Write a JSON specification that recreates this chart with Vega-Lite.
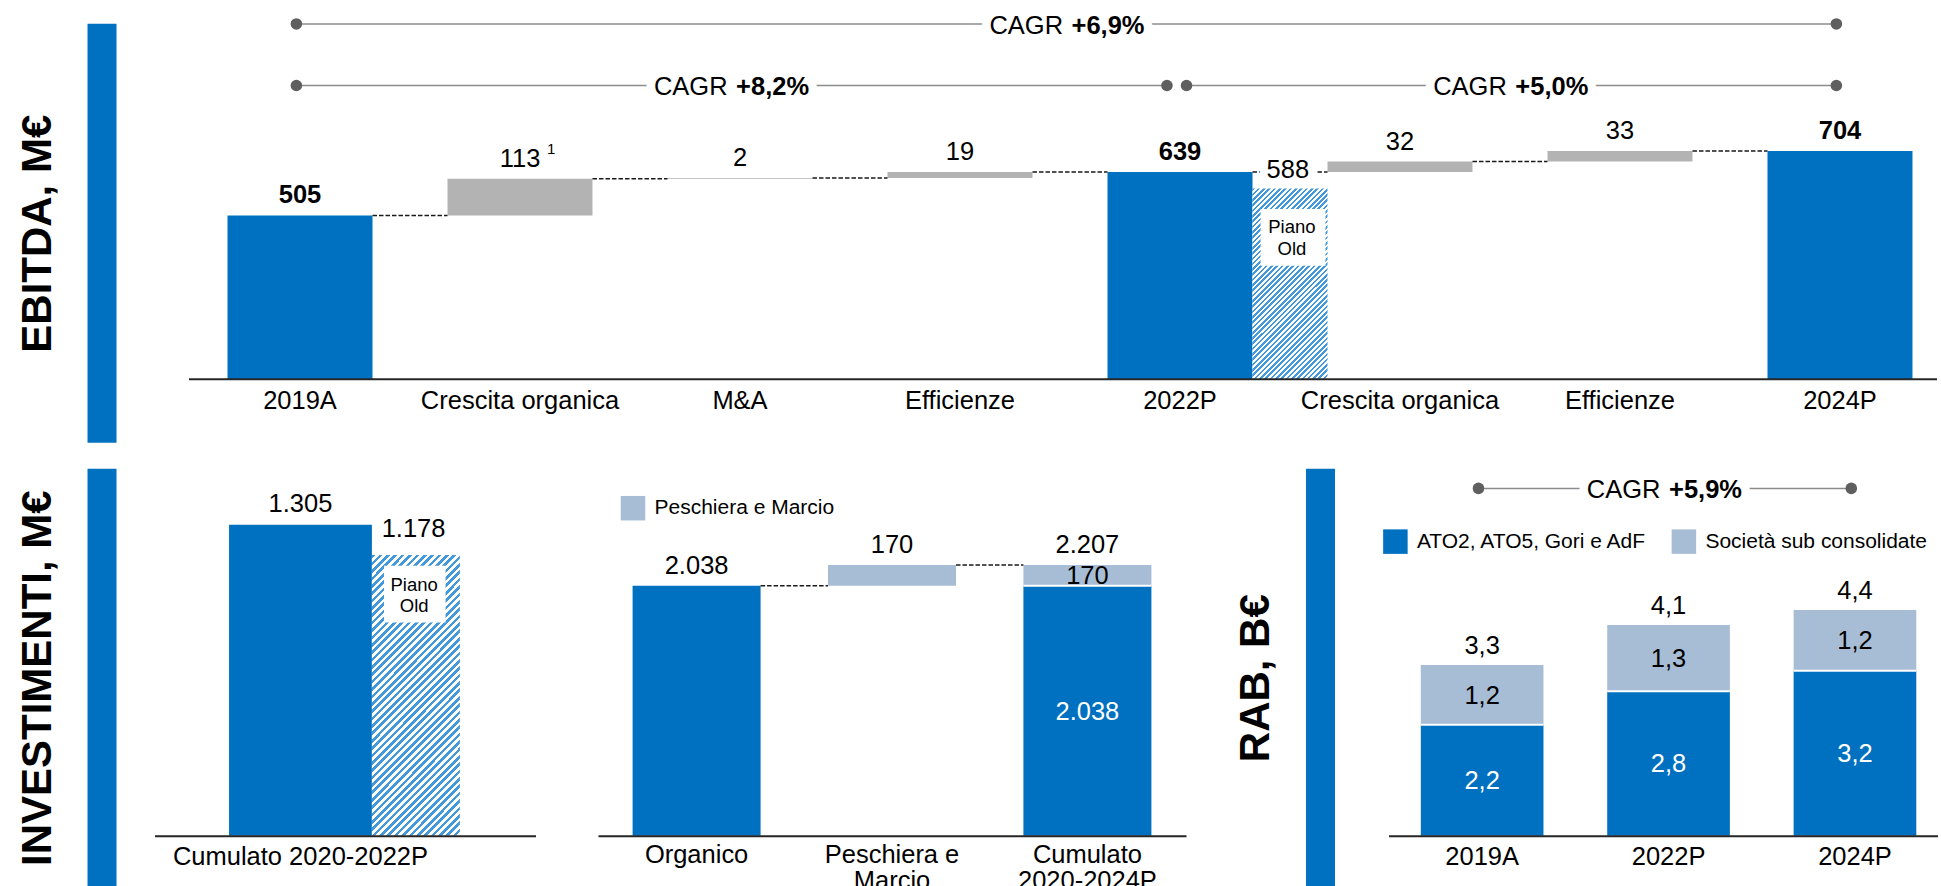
{
"$schema":"https://vega.github.io/schema/vega-lite/v6.json",
"padding":{"left":15.5,"top":13.7,"right":0,"bottom":0},
"config":{"font":"Liberation Sans","view":{"stroke":null},"locale":{"number":{"decimal":",","thousands":".","grouping":[3],"currency":[""," €"]}},"axis":{"grid":false}},
"spacing":26,
"resolve":{"scale":{"color":"independent"},"legend":{"color":"independent"}},
"vconcat":[
{"spacing":72,"resolve":{"scale":{"color":"independent"},"legend":{"color":"independent"}},"hconcat":[
{"width":29,"height":419,"data":{"values":[{}]},"mark":{"type":"rect","color":"#0070C0"},
 "encoding":{"y":{"datum":0,"type":"quantitative","scale":{"domain":[0,1]},"axis":{"title":"EBITDA, M€","titleFontSize":42,"titleFontWeight":"bold","titleColor":"#000","titlePadding":28.5,"labels":false,"ticks":false,"domain":false,"grid":false,"minExtent":0,"maxExtent":0}},"y2":{"datum":1}}},
{"width":1748,"height":419,
 "data":{"values":[
 {"cat":"2019A","kind":"total","start":0,"end":505,"value":505},
 {"cat":"Crescita organica|1","kind":"delta","start":505,"end":618,"value":113},
 {"cat":"M&A","kind":"delta","start":618,"end":620,"value":2},
 {"cat":"Efficienze|1","kind":"delta","start":620,"end":639,"value":19},
 {"cat":"2022P","kind":"total","start":0,"end":639,"value":639},
 {"cat":"Crescita organica|2","kind":"delta","start":639,"end":671,"value":32},
 {"cat":"Efficienze|2","kind":"delta","start":671,"end":704,"value":33},
 {"cat":"2024P","kind":"total","start":0,"end":704,"value":704}]},
 "layer":[
 {"mark":{"type":"bar"},
  "encoding":{
   "x":{"field":"cat","type":"nominal","scale":{"type":"band","domain":["2019A","Crescita organica|1","M&A","Efficienze|1","2022P","Crescita organica|2","Efficienze|2","2024P"],"paddingInner":0.341,"paddingOuter":0.1432,"align":0.619},
        "axis":{"title":null,"orient":"bottom","offset":-64,"domainColor":"#262626","domainWidth":2,"ticks":false,"labelPadding":10,"labelFontSize":25.5,"labelColor":"#000","labelAngle":0,"labelLimit":400,"labelOverlap":false,"labelExpr":"split(datum.value, '|')[0]","zindex":1}},
   "y":{"field":"start","type":"quantitative","scale":{"domain":[-196.6,1096.6],"nice":false,"zero":false},"axis":null},
   "y2":{"field":"end"},
   "color":{"condition":{"test":"datum.kind == 'total'","value":"#0070C0"},"value":"#B3B3B3"}}},
 {"data":{"values":[{"piano_old":588}]},
  "mark":{"type":"rect","color":{"gradient":"linear","x1":0,"y1":0,"x2":0.475,"y2":1.207,"stops":[{"offset":0,"color":"#49d"},{"offset":0.01,"color":"#49d"},{"offset":0.01,"color":"#fff"},{"offset":0.02,"color":"#fff"},{"offset":0.02,"color":"#49d"},{"offset":0.03,"color":"#49d"},{"offset":0.03,"color":"#fff"},{"offset":0.04,"color":"#fff"},{"offset":0.04,"color":"#49d"},{"offset":0.05,"color":"#49d"},{"offset":0.05,"color":"#fff"},{"offset":0.06,"color":"#fff"},{"offset":0.06,"color":"#49d"},{"offset":0.07,"color":"#49d"},{"offset":0.07,"color":"#fff"},{"offset":0.08,"color":"#fff"},{"offset":0.08,"color":"#49d"},{"offset":0.09,"color":"#49d"},{"offset":0.09,"color":"#fff"},{"offset":0.1,"color":"#fff"},{"offset":0.1,"color":"#49d"},{"offset":0.11,"color":"#49d"},{"offset":0.11,"color":"#fff"},{"offset":0.12,"color":"#fff"},{"offset":0.12,"color":"#49d"},{"offset":0.13,"color":"#49d"},{"offset":0.13,"color":"#fff"},{"offset":0.14,"color":"#fff"},{"offset":0.14,"color":"#49d"},{"offset":0.15,"color":"#49d"},{"offset":0.15,"color":"#fff"},{"offset":0.16,"color":"#fff"},{"offset":0.16,"color":"#49d"},{"offset":0.17,"color":"#49d"},{"offset":0.17,"color":"#fff"},{"offset":0.18,"color":"#fff"},{"offset":0.18,"color":"#49d"},{"offset":0.19,"color":"#49d"},{"offset":0.19,"color":"#fff"},{"offset":0.2,"color":"#fff"},{"offset":0.2,"color":"#49d"},{"offset":0.21,"color":"#49d"},{"offset":0.21,"color":"#fff"},{"offset":0.22,"color":"#fff"},{"offset":0.22,"color":"#49d"},{"offset":0.23,"color":"#49d"},{"offset":0.23,"color":"#fff"},{"offset":0.24,"color":"#fff"},{"offset":0.24,"color":"#49d"},{"offset":0.25,"color":"#49d"},{"offset":0.25,"color":"#fff"},{"offset":0.26,"color":"#fff"},{"offset":0.26,"color":"#49d"},{"offset":0.27,"color":"#49d"},{"offset":0.27,"color":"#fff"},{"offset":0.28,"color":"#fff"},{"offset":0.28,"color":"#49d"},{"offset":0.29,"color":"#49d"},{"offset":0.29,"color":"#fff"},{"offset":0.3,"color":"#fff"},{"offset":0.3,"color":"#49d"},{"offset":0.31,"color":"#49d"},{"offset":0.31,"color":"#fff"},{"offset":0.32,"color":"#fff"},{"offset":0.32,"color":"#49d"},{"offset":0.33,"color":"#49d"},{"offset":0.33,"color":"#fff"},{"offset":0.34,"color":"#fff"},{"offset":0.34,"color":"#49d"},{"offset":0.35,"color":"#49d"},{"offset":0.35,"color":"#fff"},{"offset":0.36,"color":"#fff"},{"offset":0.36,"color":"#49d"},{"offset":0.37,"color":"#49d"},{"offset":0.37,"color":"#fff"},{"offset":0.38,"color":"#fff"},{"offset":0.38,"color":"#49d"},{"offset":0.39,"color":"#49d"},{"offset":0.39,"color":"#fff"},{"offset":0.4,"color":"#fff"},{"offset":0.4,"color":"#49d"},{"offset":0.41,"color":"#49d"},{"offset":0.41,"color":"#fff"},{"offset":0.42,"color":"#fff"},{"offset":0.42,"color":"#49d"},{"offset":0.43,"color":"#49d"},{"offset":0.43,"color":"#fff"},{"offset":0.44,"color":"#fff"},{"offset":0.44,"color":"#49d"},{"offset":0.45,"color":"#49d"},{"offset":0.45,"color":"#fff"},{"offset":0.46,"color":"#fff"},{"offset":0.46,"color":"#49d"},{"offset":0.47,"color":"#49d"},{"offset":0.47,"color":"#fff"},{"offset":0.48,"color":"#fff"},{"offset":0.48,"color":"#49d"},{"offset":0.49,"color":"#49d"},{"offset":0.49,"color":"#fff"},{"offset":0.5,"color":"#fff"},{"offset":0.5,"color":"#49d"},{"offset":0.51,"color":"#49d"},{"offset":0.51,"color":"#fff"},{"offset":0.52,"color":"#fff"},{"offset":0.52,"color":"#49d"},{"offset":0.53,"color":"#49d"},{"offset":0.53,"color":"#fff"},{"offset":0.54,"color":"#fff"},{"offset":0.54,"color":"#49d"},{"offset":0.55,"color":"#49d"},{"offset":0.55,"color":"#fff"},{"offset":0.56,"color":"#fff"},{"offset":0.56,"color":"#49d"},{"offset":0.57,"color":"#49d"},{"offset":0.57,"color":"#fff"},{"offset":0.58,"color":"#fff"},{"offset":0.58,"color":"#49d"},{"offset":0.59,"color":"#49d"},{"offset":0.59,"color":"#fff"},{"offset":0.6,"color":"#fff"},{"offset":0.6,"color":"#49d"},{"offset":0.61,"color":"#49d"},{"offset":0.61,"color":"#fff"},{"offset":0.62,"color":"#fff"},{"offset":0.62,"color":"#49d"},{"offset":0.63,"color":"#49d"},{"offset":0.63,"color":"#fff"},{"offset":0.64,"color":"#fff"},{"offset":0.64,"color":"#49d"},{"offset":0.65,"color":"#49d"},{"offset":0.65,"color":"#fff"},{"offset":0.66,"color":"#fff"},{"offset":0.66,"color":"#49d"},{"offset":0.67,"color":"#49d"},{"offset":0.67,"color":"#fff"},{"offset":0.68,"color":"#fff"},{"offset":0.68,"color":"#49d"},{"offset":0.69,"color":"#49d"},{"offset":0.69,"color":"#fff"},{"offset":0.7,"color":"#fff"},{"offset":0.7,"color":"#49d"},{"offset":0.71,"color":"#49d"},{"offset":0.71,"color":"#fff"},{"offset":0.72,"color":"#fff"},{"offset":0.72,"color":"#49d"},{"offset":0.73,"color":"#49d"},{"offset":0.73,"color":"#fff"},{"offset":0.74,"color":"#fff"},{"offset":0.74,"color":"#49d"},{"offset":0.75,"color":"#49d"},{"offset":0.75,"color":"#fff"},{"offset":0.76,"color":"#fff"},{"offset":0.76,"color":"#49d"},{"offset":0.77,"color":"#49d"},{"offset":0.77,"color":"#fff"},{"offset":0.78,"color":"#fff"},{"offset":0.78,"color":"#49d"},{"offset":0.79,"color":"#49d"},{"offset":0.79,"color":"#fff"},{"offset":0.8,"color":"#fff"},{"offset":0.8,"color":"#49d"},{"offset":0.81,"color":"#49d"},{"offset":0.81,"color":"#fff"},{"offset":0.82,"color":"#fff"},{"offset":0.82,"color":"#49d"},{"offset":0.83,"color":"#49d"},{"offset":0.83,"color":"#fff"},{"offset":0.84,"color":"#fff"},{"offset":0.84,"color":"#49d"},{"offset":0.85,"color":"#49d"},{"offset":0.85,"color":"#fff"},{"offset":0.86,"color":"#fff"},{"offset":0.86,"color":"#49d"},{"offset":0.87,"color":"#49d"},{"offset":0.87,"color":"#fff"},{"offset":0.88,"color":"#fff"},{"offset":0.88,"color":"#49d"},{"offset":0.89,"color":"#49d"},{"offset":0.89,"color":"#fff"},{"offset":0.9,"color":"#fff"},{"offset":0.9,"color":"#49d"},{"offset":0.91,"color":"#49d"},{"offset":0.91,"color":"#fff"},{"offset":0.92,"color":"#fff"},{"offset":0.92,"color":"#49d"},{"offset":0.93,"color":"#49d"},{"offset":0.93,"color":"#fff"},{"offset":0.94,"color":"#fff"},{"offset":0.94,"color":"#49d"},{"offset":0.95,"color":"#49d"},{"offset":0.95,"color":"#fff"},{"offset":0.96,"color":"#fff"},{"offset":0.96,"color":"#49d"},{"offset":0.97,"color":"#49d"},{"offset":0.97,"color":"#fff"},{"offset":0.98,"color":"#fff"},{"offset":0.98,"color":"#49d"},{"offset":0.99,"color":"#49d"},{"offset":0.99,"color":"#fff"},{"offset":1,"color":"#fff"}]}},
  "encoding":{"x":{"datum":"2022P","type":"nominal","bandPosition":1},"x2":{"datum":"Crescita organica|2","bandPosition":0},"y":{"field":"piano_old","type":"quantitative","axis":null},"y2":{"datum":0}}},
 {"data":{"values":[{}]},"mark":{"type":"rect","color":"#fff"},
  "encoding":{"x":{"datum":"2022P","type":"nominal","bandPosition":1.056},"x2":{"datum":"Crescita organica|2","bandPosition":-0.014},"y":{"datum":524.7,"type":"quantitative","axis":null},"y2":{"datum":349.7}}},
 {"data":{"values":[{}]},"mark":{"type":"text","text":["Piano","Old"],"fontSize":18.5,"lineHeight":21.5,"baseline":"top","color":"#000"},
  "encoding":{"x":{"datum":"2022P","type":"nominal","bandPosition":1.272},"y":{"datum":496,"type":"quantitative","axis":null}}},
 {"transform":[{"window":[{"op":"lead","field":"cat","as":"next"}]},{"filter":"datum.next != null"}],
  "mark":{"type":"rule","color":"#1a1a1a","strokeWidth":1.5,"strokeDash":[4.5,2]},
  "encoding":{"x":{"field":"cat","type":"nominal","bandPosition":1},"x2":{"field":"next","bandPosition":0},"y":{"field":"end","type":"quantitative","axis":null}}},
 {"transform":[{"filter":"datum.kind == 'delta'"}],"mark":{"type":"text","baseline":"bottom","dy":-7,"fontSize":25.5,"color":"#000"},
  "encoding":{"x":{"field":"cat","type":"nominal"},"y":{"field":"end","type":"quantitative","axis":null},"text":{"field":"value","type":"quantitative"}}},
 {"transform":[{"filter":"datum.kind == 'total'"}],"mark":{"type":"text","baseline":"bottom","dy":-7,"fontSize":25.5,"fontWeight":"bold","color":"#000"},
  "encoding":{"x":{"field":"cat","type":"nominal"},"y":{"field":"end","type":"quantitative","axis":null},"text":{"field":"value","type":"quantitative"}}},
 {"transform":[{"filter":"datum.cat == 'Crescita organica|1'"}],"mark":{"type":"text","text":"1","fontSize":15,"align":"left","baseline":"alphabetic","dx":27,"dy":-25,"color":"#000"},
  "encoding":{"x":{"field":"cat","type":"nominal"},"y":{"field":"end","type":"quantitative","axis":null}}},
 {"data":{"values":[{"piano_old":588}]},"mark":{"type":"text","fontSize":25.5,"dy":-2,"color":"#fff","stroke":"#fff","strokeWidth":16,"strokeJoin":"round"},
  "encoding":{"x":{"datum":"2022P","type":"nominal","bandPosition":1.244},"y":{"datum":639,"type":"quantitative","axis":null},"text":{"field":"piano_old","type":"quantitative"}}},
 {"data":{"values":[{"piano_old":588}]},"mark":{"type":"text","fontSize":25.5,"dy":-2,"color":"#000"},
  "encoding":{"x":{"datum":"2022P","type":"nominal","bandPosition":1.244},"y":{"datum":639,"type":"quantitative","axis":null},"text":{"field":"piano_old","type":"quantitative"}}},
 {"data":{"values":[{}]},"mark":{"type":"rule","color":"#8c8c8c","strokeWidth":1.5},
  "encoding":{"x":{"datum":"2019A","type":"nominal","bandPosition":0.475},"x2":{"datum":"2024P","bandPosition":0.475},"y":{"datum":1096,"type":"quantitative","axis":null}}},
 {"data":{"values":[{}]},"mark":{"type":"rule","color":"#8c8c8c","strokeWidth":1.5},
  "encoding":{"x":{"datum":"2019A","type":"nominal","bandPosition":0.475},"x2":{"datum":"2022P","bandPosition":0.41},"y":{"datum":906,"type":"quantitative","axis":null}}},
 {"data":{"values":[{}]},"mark":{"type":"rule","color":"#8c8c8c","strokeWidth":1.5},
  "encoding":{"x":{"datum":"2022P","type":"nominal","bandPosition":0.545},"x2":{"datum":"2024P","bandPosition":0.475},"y":{"datum":906,"type":"quantitative","axis":null}}},
 {"data":{"values":[{"c":"2019A"},{"c":"2024P"}]},"mark":{"type":"circle","size":133,"color":"#5f5f5f","opacity":1},
  "encoding":{"x":{"field":"c","type":"nominal","bandPosition":0.475},"y":{"datum":1096,"type":"quantitative","axis":null}}},
 {"data":{"values":[{"c":"2019A"},{"c":"2024P"}]},"mark":{"type":"circle","size":133,"color":"#5f5f5f","opacity":1},
  "encoding":{"x":{"field":"c","type":"nominal","bandPosition":0.475},"y":{"datum":906,"type":"quantitative","axis":null}}},
 {"data":{"values":[{}]},"mark":{"type":"circle","size":133,"color":"#5f5f5f","opacity":1},
  "encoding":{"x":{"datum":"2022P","type":"nominal","bandPosition":0.41},"y":{"datum":906,"type":"quantitative","axis":null}}},
 {"data":{"values":[{}]},"mark":{"type":"circle","size":133,"color":"#5f5f5f","opacity":1},
  "encoding":{"x":{"datum":"2022P","type":"nominal","bandPosition":0.545},"y":{"datum":906,"type":"quantitative","axis":null}}},
 {"data":{"values":[{}]},"mark":{"type":"text","text":"CAGR +6,9%","fontSize":25.5,"fontWeight":"bold","dy":2.5,"color":"#fff","stroke":"#fff","strokeWidth":17,"strokeJoin":"round"},
  "encoding":{"x":{"datum":"2022P","type":"nominal","bandPosition":-0.279},"y":{"datum":1096,"type":"quantitative","axis":null}}},
 {"data":{"values":[{}]},"mark":{"type":"text","text":"CAGR +8,2%","fontSize":25.5,"fontWeight":"bold","dy":2,"color":"#fff","stroke":"#fff","strokeWidth":17,"strokeJoin":"round"},
  "encoding":{"x":{"datum":"M&A","type":"nominal","bandPosition":0.442},"y":{"datum":906,"type":"quantitative","axis":null}}},
 {"data":{"values":[{}]},"mark":{"type":"text","text":"CAGR +5,0%","fontSize":25.5,"fontWeight":"bold","dy":2,"color":"#fff","stroke":"#fff","strokeWidth":17,"strokeJoin":"round"},
  "encoding":{"x":{"datum":"Efficienze|2","type":"nominal","bandPosition":-0.253},"y":{"datum":906,"type":"quantitative","axis":null}}},
 {"data":{"values":[{}]},"mark":{"type":"text","text":"CAGR","fontSize":25.5,"align":"right","dx":-4,"dy":2.5,"color":"#000"},
  "encoding":{"x":{"datum":"2022P","type":"nominal","bandPosition":-0.279},"y":{"datum":1096,"type":"quantitative","axis":null}}},
 {"data":{"values":[{}]},"mark":{"type":"text","text":"+6,9%","fontSize":25.5,"fontWeight":"bold","align":"left","dx":4.5,"dy":2.5,"color":"#000"},
  "encoding":{"x":{"datum":"2022P","type":"nominal","bandPosition":-0.279},"y":{"datum":1096,"type":"quantitative","axis":null}}},
 {"data":{"values":[{}]},"mark":{"type":"text","text":"CAGR","fontSize":25.5,"align":"right","dx":-4,"dy":2,"color":"#000"},
  "encoding":{"x":{"datum":"M&A","type":"nominal","bandPosition":0.442},"y":{"datum":906,"type":"quantitative","axis":null}}},
 {"data":{"values":[{}]},"mark":{"type":"text","text":"+8,2%","fontSize":25.5,"fontWeight":"bold","align":"left","dx":4.5,"dy":2,"color":"#000"},
  "encoding":{"x":{"datum":"M&A","type":"nominal","bandPosition":0.442},"y":{"datum":906,"type":"quantitative","axis":null}}},
 {"data":{"values":[{}]},"mark":{"type":"text","text":"CAGR","fontSize":25.5,"align":"right","dx":-4,"dy":2,"color":"#000"},
  "encoding":{"x":{"datum":"Efficienze|2","type":"nominal","bandPosition":-0.253},"y":{"datum":906,"type":"quantitative","axis":null}}},
 {"data":{"values":[{}]},"mark":{"type":"text","text":"+5,0%","fontSize":25.5,"fontWeight":"bold","align":"left","dx":4.5,"dy":2,"color":"#000"},
  "encoding":{"x":{"datum":"Efficienze|2","type":"nominal","bandPosition":-0.253},"y":{"datum":906,"type":"quantitative","axis":null}}}
 ]}
]},
{"spacing":47.5,"resolve":{"scale":{"color":"independent"},"legend":{"color":"independent"}},"hconcat":[
 {"spacing":62.5,"resolve":{"scale":{"color":"independent"},"legend":{"color":"independent"}},"hconcat":[
  {"spacing":38,"resolve":{"scale":{"color":"independent"},"legend":{"color":"independent"}},"hconcat":[
   {"width":29,"height":418,"data":{"values":[{}]},"mark":{"type":"rect","color":"#0070C0"},
    "encoding":{"y":{"datum":0,"type":"quantitative","scale":{"domain":[0,1]},"axis":{"title":"INVESTIMENTI, M€","titleFontSize":42,"titleFontWeight":"bold","titleColor":"#000","titlePadding":28.5,"labels":false,"ticks":false,"domain":false,"grid":false,"minExtent":0,"maxExtent":0}},"y2":{"datum":1}}},
   {"width":381,"height":418,
    "data":{"values":[{"cat":"Cumulato 2020-2022P","value":1305}]},
    "layer":[
     {"mark":{"type":"bar","color":"#0070C0"},
      "encoding":{"x":{"field":"cat","type":"nominal","scale":{"type":"band","domain":["Cumulato 2020-2022P"],"paddingInner":0,"paddingOuter":0.8336,"align":0.313},
         "axis":{"title":null,"orient":"bottom","offset":-51,"domainColor":"#262626","domainWidth":2,"ticks":false,"labelPadding":9,"labelFontSize":25.5,"labelColor":"#000","labelAngle":0,"labelLimit":400,"labelOverlap":false,"zindex":1}},
       "y":{"field":"value","type":"quantitative","scale":{"domain":[-214,1540.1],"nice":false,"zero":false},"axis":null},"y2":{"datum":0}}},
     {"data":{"values":[{"old":1178}]},
      "mark":{"type":"rect","color":{"gradient":"linear","x1":0,"y1":0,"x2":0.376,"y2":1.196,"stops":[{"offset":0,"color":"#49d"},{"offset":0.01,"color":"#49d"},{"offset":0.01,"color":"#fff"},{"offset":0.02,"color":"#fff"},{"offset":0.02,"color":"#49d"},{"offset":0.03,"color":"#49d"},{"offset":0.03,"color":"#fff"},{"offset":0.04,"color":"#fff"},{"offset":0.04,"color":"#49d"},{"offset":0.05,"color":"#49d"},{"offset":0.05,"color":"#fff"},{"offset":0.06,"color":"#fff"},{"offset":0.06,"color":"#49d"},{"offset":0.07,"color":"#49d"},{"offset":0.07,"color":"#fff"},{"offset":0.08,"color":"#fff"},{"offset":0.08,"color":"#49d"},{"offset":0.09,"color":"#49d"},{"offset":0.09,"color":"#fff"},{"offset":0.1,"color":"#fff"},{"offset":0.1,"color":"#49d"},{"offset":0.11,"color":"#49d"},{"offset":0.11,"color":"#fff"},{"offset":0.12,"color":"#fff"},{"offset":0.12,"color":"#49d"},{"offset":0.13,"color":"#49d"},{"offset":0.13,"color":"#fff"},{"offset":0.14,"color":"#fff"},{"offset":0.14,"color":"#49d"},{"offset":0.15,"color":"#49d"},{"offset":0.15,"color":"#fff"},{"offset":0.16,"color":"#fff"},{"offset":0.16,"color":"#49d"},{"offset":0.17,"color":"#49d"},{"offset":0.17,"color":"#fff"},{"offset":0.18,"color":"#fff"},{"offset":0.18,"color":"#49d"},{"offset":0.19,"color":"#49d"},{"offset":0.19,"color":"#fff"},{"offset":0.2,"color":"#fff"},{"offset":0.2,"color":"#49d"},{"offset":0.21,"color":"#49d"},{"offset":0.21,"color":"#fff"},{"offset":0.22,"color":"#fff"},{"offset":0.22,"color":"#49d"},{"offset":0.23,"color":"#49d"},{"offset":0.23,"color":"#fff"},{"offset":0.24,"color":"#fff"},{"offset":0.24,"color":"#49d"},{"offset":0.25,"color":"#49d"},{"offset":0.25,"color":"#fff"},{"offset":0.26,"color":"#fff"},{"offset":0.26,"color":"#49d"},{"offset":0.27,"color":"#49d"},{"offset":0.27,"color":"#fff"},{"offset":0.28,"color":"#fff"},{"offset":0.28,"color":"#49d"},{"offset":0.29,"color":"#49d"},{"offset":0.29,"color":"#fff"},{"offset":0.3,"color":"#fff"},{"offset":0.3,"color":"#49d"},{"offset":0.31,"color":"#49d"},{"offset":0.31,"color":"#fff"},{"offset":0.32,"color":"#fff"},{"offset":0.32,"color":"#49d"},{"offset":0.33,"color":"#49d"},{"offset":0.33,"color":"#fff"},{"offset":0.34,"color":"#fff"},{"offset":0.34,"color":"#49d"},{"offset":0.35,"color":"#49d"},{"offset":0.35,"color":"#fff"},{"offset":0.36,"color":"#fff"},{"offset":0.36,"color":"#49d"},{"offset":0.37,"color":"#49d"},{"offset":0.37,"color":"#fff"},{"offset":0.38,"color":"#fff"},{"offset":0.38,"color":"#49d"},{"offset":0.39,"color":"#49d"},{"offset":0.39,"color":"#fff"},{"offset":0.4,"color":"#fff"},{"offset":0.4,"color":"#49d"},{"offset":0.41,"color":"#49d"},{"offset":0.41,"color":"#fff"},{"offset":0.42,"color":"#fff"},{"offset":0.42,"color":"#49d"},{"offset":0.43,"color":"#49d"},{"offset":0.43,"color":"#fff"},{"offset":0.44,"color":"#fff"},{"offset":0.44,"color":"#49d"},{"offset":0.45,"color":"#49d"},{"offset":0.45,"color":"#fff"},{"offset":0.46,"color":"#fff"},{"offset":0.46,"color":"#49d"},{"offset":0.47,"color":"#49d"},{"offset":0.47,"color":"#fff"},{"offset":0.48,"color":"#fff"},{"offset":0.48,"color":"#49d"},{"offset":0.49,"color":"#49d"},{"offset":0.49,"color":"#fff"},{"offset":0.5,"color":"#fff"},{"offset":0.5,"color":"#49d"},{"offset":0.51,"color":"#49d"},{"offset":0.51,"color":"#fff"},{"offset":0.52,"color":"#fff"},{"offset":0.52,"color":"#49d"},{"offset":0.53,"color":"#49d"},{"offset":0.53,"color":"#fff"},{"offset":0.54,"color":"#fff"},{"offset":0.54,"color":"#49d"},{"offset":0.55,"color":"#49d"},{"offset":0.55,"color":"#fff"},{"offset":0.56,"color":"#fff"},{"offset":0.56,"color":"#49d"},{"offset":0.57,"color":"#49d"},{"offset":0.57,"color":"#fff"},{"offset":0.58,"color":"#fff"},{"offset":0.58,"color":"#49d"},{"offset":0.59,"color":"#49d"},{"offset":0.59,"color":"#fff"},{"offset":0.6,"color":"#fff"},{"offset":0.6,"color":"#49d"},{"offset":0.61,"color":"#49d"},{"offset":0.61,"color":"#fff"},{"offset":0.62,"color":"#fff"},{"offset":0.62,"color":"#49d"},{"offset":0.63,"color":"#49d"},{"offset":0.63,"color":"#fff"},{"offset":0.64,"color":"#fff"},{"offset":0.64,"color":"#49d"},{"offset":0.65,"color":"#49d"},{"offset":0.65,"color":"#fff"},{"offset":0.66,"color":"#fff"},{"offset":0.66,"color":"#49d"},{"offset":0.67,"color":"#49d"},{"offset":0.67,"color":"#fff"},{"offset":0.68,"color":"#fff"},{"offset":0.68,"color":"#49d"},{"offset":0.69,"color":"#49d"},{"offset":0.69,"color":"#fff"},{"offset":0.7,"color":"#fff"},{"offset":0.7,"color":"#49d"},{"offset":0.71,"color":"#49d"},{"offset":0.71,"color":"#fff"},{"offset":0.72,"color":"#fff"},{"offset":0.72,"color":"#49d"},{"offset":0.73,"color":"#49d"},{"offset":0.73,"color":"#fff"},{"offset":0.74,"color":"#fff"},{"offset":0.74,"color":"#49d"},{"offset":0.75,"color":"#49d"},{"offset":0.75,"color":"#fff"},{"offset":0.76,"color":"#fff"},{"offset":0.76,"color":"#49d"},{"offset":0.77,"color":"#49d"},{"offset":0.77,"color":"#fff"},{"offset":0.78,"color":"#fff"},{"offset":0.78,"color":"#49d"},{"offset":0.79,"color":"#49d"},{"offset":0.79,"color":"#fff"},{"offset":0.8,"color":"#fff"},{"offset":0.8,"color":"#49d"},{"offset":0.81,"color":"#49d"},{"offset":0.81,"color":"#fff"},{"offset":0.82,"color":"#fff"},{"offset":0.82,"color":"#49d"},{"offset":0.83,"color":"#49d"},{"offset":0.83,"color":"#fff"},{"offset":0.84,"color":"#fff"},{"offset":0.84,"color":"#49d"},{"offset":0.85,"color":"#49d"},{"offset":0.85,"color":"#fff"},{"offset":0.86,"color":"#fff"},{"offset":0.86,"color":"#49d"},{"offset":0.87,"color":"#49d"},{"offset":0.87,"color":"#fff"},{"offset":0.88,"color":"#fff"},{"offset":0.88,"color":"#49d"},{"offset":0.89,"color":"#49d"},{"offset":0.89,"color":"#fff"},{"offset":0.9,"color":"#fff"},{"offset":0.9,"color":"#49d"},{"offset":0.91,"color":"#49d"},{"offset":0.91,"color":"#fff"},{"offset":0.92,"color":"#fff"},{"offset":0.92,"color":"#49d"},{"offset":0.93,"color":"#49d"},{"offset":0.93,"color":"#fff"},{"offset":0.94,"color":"#fff"},{"offset":0.94,"color":"#49d"},{"offset":0.95,"color":"#49d"},{"offset":0.95,"color":"#fff"},{"offset":0.96,"color":"#fff"},{"offset":0.96,"color":"#49d"},{"offset":0.97,"color":"#49d"},{"offset":0.97,"color":"#fff"},{"offset":0.98,"color":"#fff"},{"offset":0.98,"color":"#49d"},{"offset":0.99,"color":"#49d"},{"offset":0.99,"color":"#fff"},{"offset":1,"color":"#fff"}]}},
      "encoding":{"x":{"datum":"Cumulato 2020-2022P","type":"nominal","bandPosition":1},"x2":{"datum":"Cumulato 2020-2022P","bandPosition":1.616},"y":{"field":"old","type":"quantitative","axis":null},"y2":{"datum":0}}},
     {"data":{"values":[{}]},"mark":{"type":"rect","color":"#fff"},
      "encoding":{"x":{"datum":"Cumulato 2020-2022P","type":"nominal","bandPosition":1.085},"x2":{"datum":"Cumulato 2020-2022P","bandPosition":1.5156},"y":{"datum":1133,"type":"quantitative","axis":null},"y2":{"datum":895}}},
     {"data":{"values":[{}]},"mark":{"type":"text","text":["Piano","Old"],"fontSize":18.5,"lineHeight":21.7,"baseline":"top","color":"#000"},
      "encoding":{"x":{"datum":"Cumulato 2020-2022P","type":"nominal","bandPosition":1.296},"y":{"datum":1091.5,"type":"quantitative","axis":null}}},
     {"mark":{"type":"text","baseline":"bottom","dy":-7.9,"fontSize":25.5,"color":"#000"},
      "encoding":{"x":{"field":"cat","type":"nominal"},"y":{"field":"value","type":"quantitative","axis":null},"text":{"field":"value","type":"quantitative","format":",.0f"}}},
     {"data":{"values":[{"old":1178}]},"mark":{"type":"text","baseline":"bottom","dy":-13.2,"fontSize":25.5,"color":"#000"},
      "encoding":{"x":{"datum":"Cumulato 2020-2022P","type":"nominal","bandPosition":1.2916},"y":{"field":"old","type":"quantitative","axis":null},"text":{"field":"old","type":"quantitative","format":",.0f"}}}
    ]}
  ]},
  {"width":588,"height":418,
   "data":{"values":[
    {"cat":"Organico","part":"Organico","start":0,"end":2037.6,"top":2037.6},
    {"cat":"Peschiera e|Marcio","part":"Peschiera e Marcio","start":2037.6,"end":2207.2,"top":169.6},
    {"cat":"Cumulato|2020-2024P","part":"Organico","start":0,"end":2037.6,"inner":2037.6},
    {"cat":"Cumulato|2020-2024P","part":"Peschiera e Marcio","start":2037.6,"end":2207.2,"inner":169.6,"top":2207.2}]},
   "layer":[
    {"mark":{"type":"bar"},
     "encoding":{"x":{"field":"cat","type":"nominal","scale":{"type":"band","domain":["Organico","Peschiera e|Marcio","Cumulato|2020-2024P"],"paddingInner":0.345,"paddingOuter":0.177},
        "axis":{"title":null,"orient":"bottom","offset":-51,"domainColor":"#262626","domainWidth":2,"ticks":false,"labels":false,"zindex":1}},
      "y":{"field":"start","type":"quantitative","scale":{"domain":[-415.8,2991.8],"nice":false,"zero":false},"axis":null},"y2":{"field":"end"},
      "color":{"field":"part","type":"nominal","scale":{"domain":["Organico","Peschiera e Marcio"],"range":["#0070C0","#A7BDD5"]},
        "legend":{"values":["Peschiera e Marcio"],"orient":"none","legendX":22.5,"legendY":27,"title":null,"symbolType":"square","symbolSize":600,"symbolStrokeWidth":0,"labelFontSize":21,"labelOffset":9,"labelColor":"#000","labelLimit":400,"padding":0}}}},
    {"transform":[{"filter":"datum.cat == 'Cumulato|2020-2024P' && datum.part == 'Organico'"}],"mark":{"type":"rule","color":"#fff","strokeWidth":2},
     "encoding":{"x":{"field":"cat","type":"nominal","bandPosition":0},"x2":{"field":"cat","bandPosition":1},"y":{"field":"end","type":"quantitative","axis":null}}},
    {"transform":[{"filter":"datum.cat != 'Cumulato|2020-2024P' || datum.part != 'Organico'"},{"window":[{"op":"lead","field":"cat","as":"next"}]},{"filter":"datum.next != null"}],
     "mark":{"type":"rule","color":"#1a1a1a","strokeWidth":1.5,"strokeDash":[4.5,2]},
     "encoding":{"x":{"field":"cat","type":"nominal","bandPosition":1},"x2":{"field":"next","bandPosition":0},"y":{"field":"end","type":"quantitative","axis":null}}},
    {"transform":[{"filter":"isValid(datum.top)"}],"mark":{"type":"text","baseline":"bottom","dy":-7,"fontSize":25.5,"color":"#000"},
     "encoding":{"x":{"field":"cat","type":"nominal"},"y":{"field":"end","type":"quantitative","axis":null},"text":{"field":"top","type":"quantitative","format":",.0f"}}},
    {"transform":[{"filter":"isValid(datum.inner)"},{"calculate":"(datum.start + datum.end) / 2","as":"mid"}],"mark":{"type":"text","baseline":"middle","dy":1,"fontSize":25.5},
     "encoding":{"x":{"field":"cat","type":"nominal"},"y":{"field":"mid","type":"quantitative","axis":null},"text":{"field":"inner","type":"quantitative","format":",.0f"},
      "color":{"condition":{"test":"datum.part == 'Organico'","value":"#fff"},"value":"#000"}}},
    {"transform":[{"filter":"datum.cat != 'Cumulato|2020-2024P' || datum.part == 'Organico'"}],"mark":{"type":"text","baseline":"top","lineBreak":"|","lineHeight":26,"fontSize":25.5,"color":"#000","clip":true},
     "encoding":{"x":{"field":"cat","type":"nominal"},"y":{"datum":-57,"type":"quantitative","axis":null},"text":{"field":"cat","type":"nominal"}}}
   ]}
 ]},
 {"spacing":47.5,"resolve":{"scale":{"color":"independent"},"legend":{"color":"independent"}},"hconcat":[
  {"width":29,"height":418,"data":{"values":[{}]},"mark":{"type":"rect","color":"#0070C0"},
   "encoding":{"y":{"datum":0,"type":"quantitative","scale":{"domain":[0,1]},"axis":{"title":"RAB, B€","titleFontSize":42,"titleFontWeight":"bold","titleColor":"#000","titlePadding":28.5,"labels":false,"ticks":false,"domain":false,"grid":false,"minExtent":0,"maxExtent":0}},"y2":{"datum":1}}},
  {"width":549,"height":418,
   "data":{"values":[
    {"year":"2019A","comp":"ATO2, ATO5, Gori e AdF","value":2.16},
    {"year":"2019A","comp":"Società sub consolidate","value":1.16},
    {"year":"2022P","comp":"ATO2, ATO5, Gori e AdF","value":2.81},
    {"year":"2022P","comp":"Società sub consolidate","value":1.29},
    {"year":"2024P","comp":"ATO2, ATO5, Gori e AdF","value":3.21},
    {"year":"2024P","comp":"Società sub consolidate","value":1.18}]},
   "layer":[
    {"mark":{"type":"bar"},
     "encoding":{"x":{"field":"year","type":"nominal","scale":{"type":"band","domain":["2019A","2022P","2024P"],"paddingInner":0.342,"paddingOuter":0.1435,"align":0.604},
        "axis":{"title":null,"orient":"bottom","offset":-51,"domainColor":"#262626","domainWidth":2,"ticks":false,"labelPadding":9,"labelFontSize":25.5,"labelColor":"#000","labelAngle":0,"labelLimit":400,"labelOverlap":false,"zindex":1}},
      "y":{"field":"value","type":"quantitative","stack":"zero","scale":{"domain":[-0.992,7.14],"nice":false,"zero":false},"axis":null},
      "color":{"field":"comp","type":"nominal","scale":{"domain":["ATO2, ATO5, Gori e AdF","Società sub consolidate"],"range":["#0070C0","#A7BDD5"]},
        "legend":{"orient":"none","legendX":-5.6,"legendY":60.3,"direction":"horizontal","title":null,"symbolType":"square","symbolSize":600,"symbolStrokeWidth":0,"labelFontSize":21,"labelOffset":9,"labelColor":"#000","labelLimit":400,"columnPadding":23.5,"padding":0}},
      "order":{"field":"comp","type":"nominal","sort":"ascending"}}},
    {"transform":[{"filter":"datum.comp == 'ATO2, ATO5, Gori e AdF'"}],"mark":{"type":"rule","color":"#fff","strokeWidth":2},
     "encoding":{"x":{"field":"year","type":"nominal","bandPosition":0},"x2":{"field":"year","bandPosition":1},"y":{"field":"value","type":"quantitative","axis":null}}},
    {"transform":[{"stack":"value","groupby":["year"],"sort":[{"field":"comp","order":"ascending"}],"as":["v0","v1"]},{"calculate":"(datum.v0 + datum.v1) / 2","as":"mid"}],
     "mark":{"type":"text","baseline":"middle","dy":1,"fontSize":25.5},
     "encoding":{"x":{"field":"year","type":"nominal"},"y":{"field":"mid","type":"quantitative","axis":null},"text":{"field":"value","type":"quantitative","format":".1f"},
      "color":{"condition":{"test":"datum.comp == 'ATO2, ATO5, Gori e AdF'","value":"#fff"},"value":"#000"}}},
    {"transform":[{"aggregate":[{"op":"sum","field":"value","as":"total"}],"groupby":["year"]}],
     "mark":{"type":"text","baseline":"bottom","dy":-6,"fontSize":25.5,"color":"#000"},
     "encoding":{"x":{"field":"year","type":"nominal"},"y":{"field":"total","type":"quantitative","axis":null},"text":{"field":"total","type":"quantitative","format":".1f"}}},
    {"data":{"values":[{}]},"mark":{"type":"rule","color":"#8c8c8c","strokeWidth":1.5},
     "encoding":{"x":{"datum":"2019A","type":"nominal","bandPosition":0.47},"x2":{"datum":"2024P","bandPosition":0.47},"y":{"datum":6.757,"type":"quantitative","axis":null}}},
    {"data":{"values":[{"c":"2019A"},{"c":"2024P"}]},"mark":{"type":"circle","size":133,"color":"#5f5f5f","opacity":1},
     "encoding":{"x":{"field":"c","type":"nominal","bandPosition":0.47},"y":{"datum":6.757,"type":"quantitative","axis":null}}},
    {"data":{"values":[{}]},"mark":{"type":"text","text":"CAGR +5,9%","fontSize":25.5,"fontWeight":"bold","dy":1.5,"color":"#fff","stroke":"#fff","strokeWidth":17,"strokeJoin":"round"},
     "encoding":{"x":{"datum":"2022P","type":"nominal","bandPosition":0.467},"y":{"datum":6.757,"type":"quantitative","axis":null}}},
    {"data":{"values":[{}]},"mark":{"type":"text","text":"CAGR","fontSize":25.5,"align":"right","dx":-4,"dy":1.5,"color":"#000"},
     "encoding":{"x":{"datum":"2022P","type":"nominal","bandPosition":0.467},"y":{"datum":6.757,"type":"quantitative","axis":null}}},
    {"data":{"values":[{}]},"mark":{"type":"text","text":"+5,9%","fontSize":25.5,"fontWeight":"bold","align":"left","dx":4.5,"dy":1.5,"color":"#000"},
     "encoding":{"x":{"datum":"2022P","type":"nominal","bandPosition":0.467},"y":{"datum":6.757,"type":"quantitative","axis":null}}}
   ]}
 ]}
]}
]
}
